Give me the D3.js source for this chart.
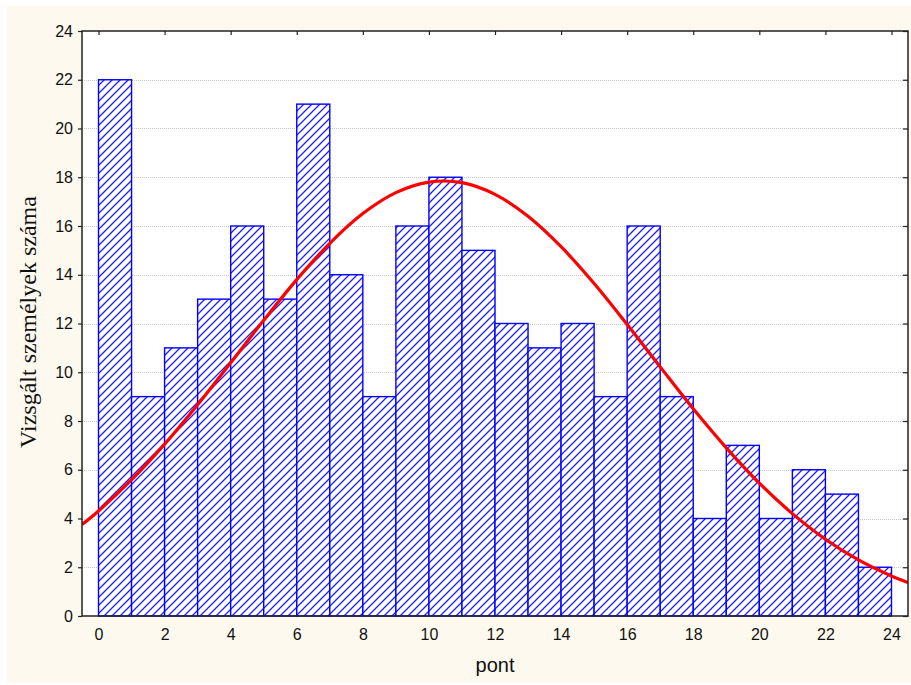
<!DOCTYPE html>
<html>
<head>
<meta charset="utf-8">
<script src="https://cdn.jsdelivr.net/npm/d3@7"></script>
<style>
  html, body { margin: 0; padding: 0; background: #ffffff; }
  svg { display: block; }
</style>
</head>
<body>
<svg id="chart" width="911" height="685"></svg>
<script>
// Histogram bins: lower edge of each one-point-wide bin and its count
const binStarts = [0, 1, 2, 3, 4, 5, 6, 7, 8, 9, 10, 11, 12, 13, 14, 15, 16, 17, 18, 19, 20, 21, 22, 23];
const binCounts = [22, 9, 11, 13, 16, 13, 21, 14, 9, 16, 18, 15, 12, 11, 12, 9, 16, 9, 4, 7, 4, 6, 5, 2];

// Fitted normal curve, sampled along the x range
const curveX = [-0.5, 0, 1, 2, 3, 4, 5, 6, 7, 8, 9, 10, 11, 12, 13, 14, 15, 16, 17, 18, 19, 20, 21, 22, 23, 24, 24.5];
const curveY = [3.75, 4.31, 5.59, 7.05, 8.67, 10.39, 12.13, 13.80, 15.29, 16.51, 17.37, 17.80, 17.78, 17.30, 16.40, 15.15, 13.64, 11.96, 10.22, 8.50, 6.90, 5.45, 4.20, 3.15, 2.30, 1.64, 1.37];

// Axis ticks
const xTicks = [0, 2, 4, 6, 8, 10, 12, 14, 16, 18, 20, 22, 24];
const yTicks = [0, 2, 4, 6, 8, 10, 12, 14, 16, 18, 20, 22, 24];

const xTitle = "pont";
const yTitle = "Vizsgált személyek száma";

const svg = d3.select("#chart");
const W = 911, H = 685;
const plot = { left: 82, top: 31, right: 908, bottom: 616 };

// cream page background
svg.append("rect")
  .attr("x", 7).attr("y", 6)
  .attr("width", W - 7).attr("height", H - 8)
  .attr("fill", "#fdf9ee");

const x = d3.scaleLinear().domain([-0.5, 24.5]).range([plot.left, plot.right]);
const y = d3.scaleLinear().domain([0, 24]).range([plot.bottom, plot.top]);

// diagonal hatch fill for the bars
const hs = 8;
const defs = svg.append("defs");
const hatch = defs.append("pattern")
  .attr("id", "hatch")
  .attr("patternUnits", "userSpaceOnUse")
  .attr("width", hs).attr("height", hs);
hatch.append("rect").attr("width", hs).attr("height", hs).attr("fill", "#ffffff");
hatch.append("path")
  .attr("d", `M-1,1 L1,-1 M0,${hs} L${hs},0 M${hs - 1},${hs + 1} L${hs + 1},${hs - 1}`)
  .attr("stroke", "#1e1eff")
  .attr("stroke-width", 1.3);

defs.append("clipPath").attr("id", "plotClip")
  .append("rect")
  .attr("x", plot.left).attr("y", plot.top)
  .attr("width", plot.right - plot.left).attr("height", plot.bottom - plot.top);

// plot area
svg.append("rect")
  .attr("x", plot.left).attr("y", plot.top)
  .attr("width", plot.right - plot.left).attr("height", plot.bottom - plot.top)
  .attr("fill", "#ffffff");

// horizontal dotted grid
svg.append("g")
  .selectAll("line")
  .data(yTicks.filter(t => t > 0 && t < 24))
  .join("line")
  .attr("x1", plot.left).attr("x2", plot.right)
  .attr("y1", d => Math.round(y(d)) + 0.5).attr("y2", d => Math.round(y(d)) + 0.5)
  .attr("stroke", "#c8c8c8")
  .attr("stroke-width", 1)
  .attr("stroke-dasharray", "1,1");

// bars
svg.append("g")
  .selectAll("rect")
  .data(binStarts.map((s, i) => ({ s, c: binCounts[i] })))
  .join("rect")
  .attr("x", d => x(d.s))
  .attr("y", d => y(d.c))
  .attr("width", d => x(d.s + 1) - x(d.s))
  .attr("height", d => y(0) - y(d.c))
  .attr("fill", "url(#hatch)")
  .attr("stroke", "#0000ff")
  .attr("stroke-width", 1.4);

// normal curve
const line = d3.line()
  .x(d => x(d[0]))
  .y(d => y(d[1]))
  .curve(d3.curveCatmullRom.alpha(0.5));
svg.append("path")
  .datum(curveX.map((v, i) => [v, curveY[i]]))
  .attr("clip-path", "url(#plotClip)")
  .attr("d", line)
  .attr("fill", "none")
  .attr("stroke", "#ff0000")
  .attr("stroke-width", 3.2);

// frame
svg.append("rect")
  .attr("x", plot.left).attr("y", plot.top)
  .attr("width", plot.right - plot.left).attr("height", plot.bottom - plot.top)
  .attr("fill", "none")
  .attr("stroke", "#222222")
  .attr("stroke-width", 1.5);

const tickFont = "'Liberation Sans', Arial, sans-serif";

// bottom axis: labels only, ticks hidden by the frame
const xAxis = d3.axisBottom(x).tickValues(xTicks).tickSize(0).tickPadding(13).tickFormat(d3.format("d"));
const gx = svg.append("g").attr("transform", `translate(0,${plot.bottom})`).call(xAxis);
gx.select(".domain").remove();
gx.selectAll("text").attr("font-family", tickFont).attr("font-size", 16).attr("fill", "#111");

// top axis: inward ticks
const xTop = d3.axisTop(x).tickValues(xTicks).tickSize(-4).tickFormat("");
const gxt = svg.append("g").attr("transform", `translate(0,${plot.top})`).call(xTop);
gxt.select(".domain").remove();
gxt.selectAll("line").attr("stroke", "#222").attr("stroke-width", 1.2);

// left axis: outward ticks with labels
const yAxis = d3.axisLeft(y).tickValues(yTicks).tickSize(4).tickPadding(5).tickFormat(d3.format("d"));
const gy = svg.append("g").attr("transform", `translate(${plot.left},0)`).call(yAxis);
gy.select(".domain").remove();
gy.selectAll("line").attr("stroke", "#222").attr("stroke-width", 1.2);
gy.selectAll("text").attr("font-family", tickFont).attr("font-size", 16).attr("fill", "#111");

// right axis: inward ticks
const yRight = d3.axisRight(y).tickValues(yTicks).tickSize(-5).tickFormat("");
const gyr = svg.append("g").attr("transform", `translate(${plot.right},0)`).call(yRight);
gyr.select(".domain").remove();
gyr.selectAll("line").attr("stroke", "#222").attr("stroke-width", 1.2);

// axis titles
svg.append("text")
  .attr("x", (plot.left + plot.right) / 2)
  .attr("y", 672)
  .attr("text-anchor", "middle")
  .attr("font-family", tickFont)
  .attr("font-size", 20)
  .attr("fill", "#111")
  .text(xTitle);

svg.append("text")
  .attr("transform", `translate(36,322) rotate(-90)`)
  .attr("text-anchor", "middle")
  .attr("font-family", "'Liberation Serif', 'Times New Roman', serif")
  .attr("font-size", 24)
  .attr("fill", "#111")
  .text(yTitle);
</script>
</body>
</html>
